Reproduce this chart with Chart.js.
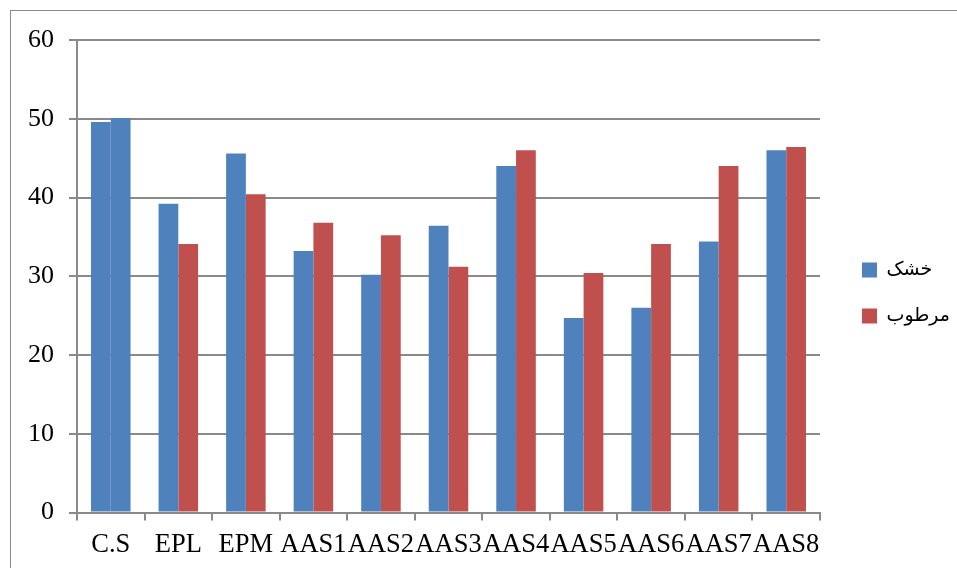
<!DOCTYPE html>
<html>
<head>
<meta charset="utf-8">
<script src="https://cdn.jsdelivr.net/npm/chart.js@4.4.1/dist/chart.umd.min.js"></script>
<style>
  html, body { margin: 0; padding: 0; background: #fff; overflow: hidden; }
  #wrap { position: relative; width: 957px; height: 568px; }
  #frame { position: absolute; left: 10px; top: 10px; width: 1200px; height: 900px; border: 1.5px solid #8a8a8a; box-sizing: border-box; }
  canvas { position: absolute; left: 0; top: 0; }
</style>
</head>
<body>
<div id="wrap">
  <div id="frame"></div>
  <canvas id="c" width="957" height="568"></canvas>
</div>
<script>
const categories = ['C.S', 'EPL', 'EPM', 'AAS1', 'AAS2', 'AAS3', 'AAS4', 'AAS5', 'AAS6', 'AAS7', 'AAS8'];
const seriesNames = ['خشک', 'مرطوب'];
const dryValues = [49.6, 39.2, 45.6, 33.2, 30.2, 36.4, 44.0, 24.7, 26.0, 34.4, 46.0];
const wetValues = [50.1, 34.1, 40.4, 36.8, 35.2, 31.2, 46.0, 30.4, 34.1, 44.0, 46.4];
const yTicks = [0, 10, 20, 30, 40, 50, 60];

const BLUE = '#4F81BD';
const RED = '#C0504D';
const GRID = '#8a8a8a';
const wetColors = categories.map((c, i) => i === 0 ? BLUE : RED);

const legendTweak = {
  id: 'legendTweak',
  afterInit(chart) {
    const lg = chart.legend;
    const orig = lg.fit.bind(lg);
    lg.fit = function () { orig(); this.width = 137; };
  },
  afterLayout(chart) {
    const lg = chart.legend;
    lg.left += 15; lg.right += 15;
    lg.top -= 11; lg.bottom -= 11;
  }
};

new Chart(document.getElementById('c'), {
  type: 'bar',
  data: {
    labels: categories,
    datasets: [
      { label: seriesNames[0], data: dryValues, backgroundColor: BLUE, borderWidth: 0 },
      { label: seriesNames[1], data: wetValues, backgroundColor: wetColors, borderWidth: 0 }
    ]
  },
  options: {
    responsive: false,
    animation: false,
    events: [],
    layout: { padding: { top: 40, left: 0, right: 0, bottom: 0 } },
    datasets: { bar: { categoryPercentage: 0.585, barPercentage: 1.0 } },
    plugins: {
      tooltip: { enabled: false },
      legend: {
        position: 'right',
        labels: {
          boxWidth: 15,
          boxHeight: 15,
          padding: 27,
          color: '#000',
          font: { family: "'Liberation Serif', 'DejaVu Sans', serif", size: 19 },
          generateLabels(chart) {
            return seriesNames.map((n, i) => ({
              text: n,
              fillStyle: i === 0 ? BLUE : RED,
              strokeStyle: i === 0 ? BLUE : RED,
              lineWidth: 0,
              hidden: false,
              datasetIndex: i
            }));
          }
        }
      }
    },
    scales: {
      x: {
        offset: true,
        grid: { display: true, drawOnChartArea: false, drawTicks: true, tickLength: 8, color: GRID, lineWidth: 2, offset: true },
        border: { display: true, color: GRID, width: 2 },
        ticks: {
          autoSkip: false, maxRotation: 0, minRotation: 0, padding: 9, color: '#000',
          font: { family: "'Liberation Serif', serif", size: 26.5 }
        },
        afterFit(scale) { scale.height = 568 - 512.5; }
      },
      y: {
        min: 0, max: 60,
        afterBuildTicks(scale) { scale.ticks = yTicks.map(v => ({ value: v })); },
        grid: { color: GRID, lineWidth: 2, drawTicks: true, tickLength: 8 },
        border: { display: true, color: GRID, width: 2 },
        ticks: {
          padding: 15, color: '#000',
          font: { family: "'Liberation Serif', serif", size: 26 }
        },
        afterFit(scale) { scale.width = 77; }
      }
    }
  },
  plugins: [legendTweak]
});
</script>
</body>
</html>
